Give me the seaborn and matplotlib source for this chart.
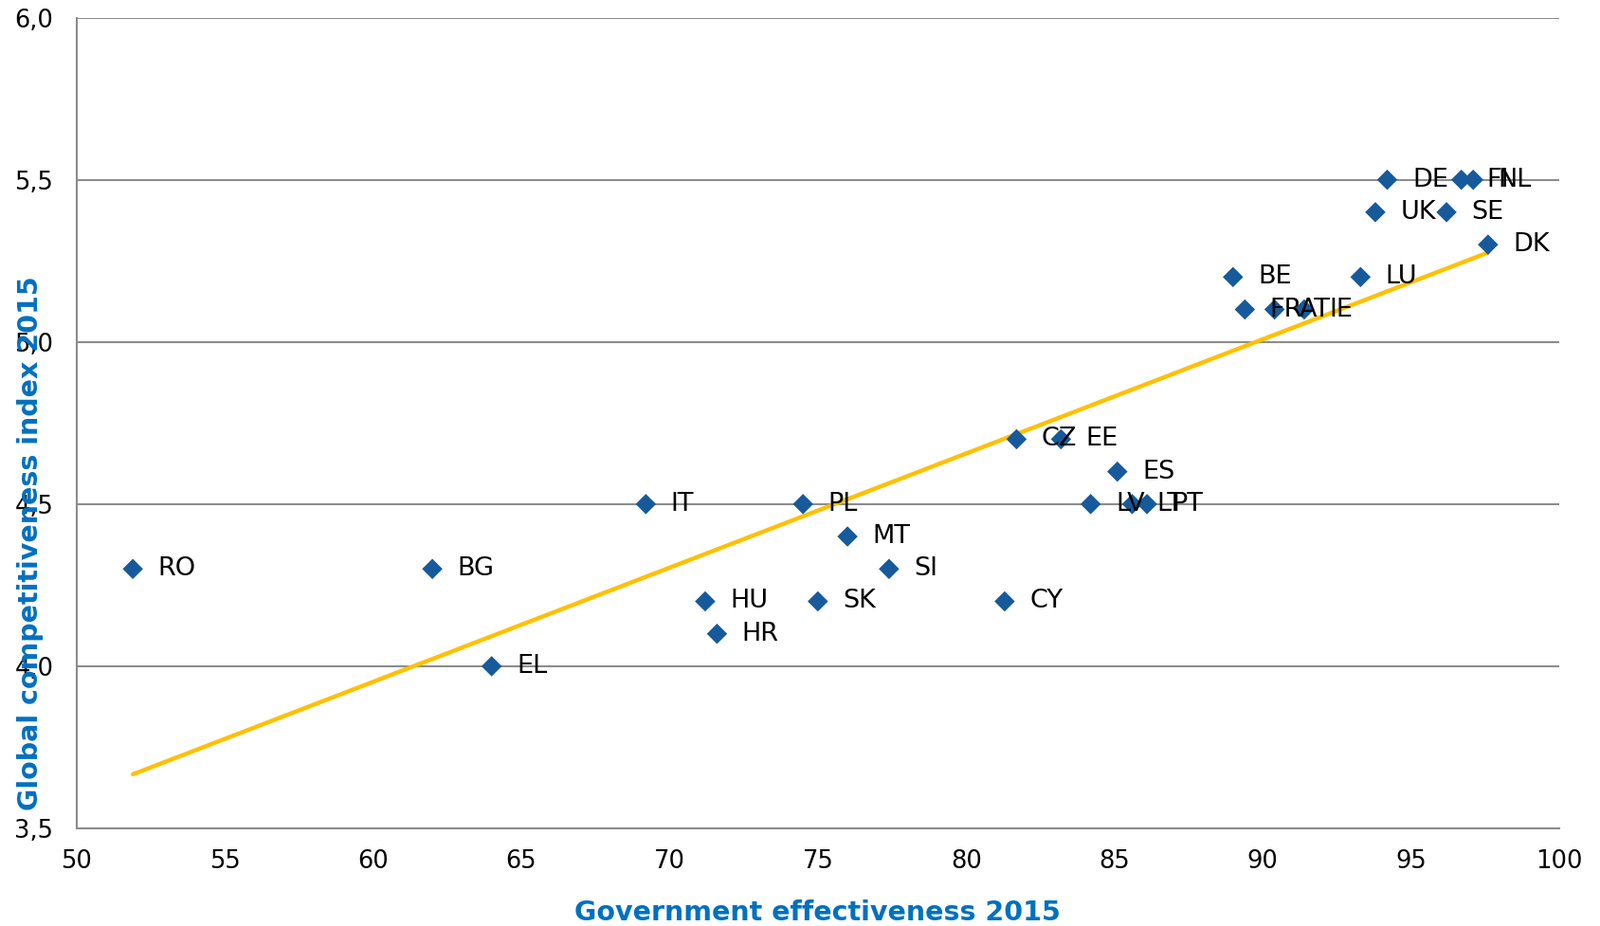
"""
Government effectiveness vs global competitiveness index, EU member states 2015
"""
import numpy as np
import pandas as pd
import matplotlib
matplotlib.use("Agg")
import matplotlib.pyplot as plt
import seaborn as sns
from matplotlib.ticker import FuncFormatter

sns.set_style("white")
plt.rcParams["font.family"] = ["DejaVu Sans"]

# -----------------------------------------------------------------
# Data
# -----------------------------------------------------------------
countries = ["RO", "BG", "EL", "IT", "HU", "HR", "PL", "SK", "MT", "SI",
             "CY", "CZ", "EE", "LV", "LT", "PT", "ES", "BE", "FR", "AT",
             "IE", "LU", "UK", "DE", "SE", "FI", "NL", "DK"]
gov_effect = [51.9, 62.0, 64.0, 69.2, 71.2, 71.6, 74.5, 75.0, 76.0, 77.4,
              81.3, 81.7, 83.2, 84.2, 85.6, 86.1, 85.1, 89.0, 89.4, 90.4,
              91.4, 93.3, 93.8, 94.2, 96.2, 96.7, 97.1, 97.6]
gci = [4.3, 4.3, 4.0, 4.5, 4.2, 4.1, 4.5, 4.2, 4.4, 4.3,
       4.2, 4.7, 4.7, 4.5, 4.5, 4.5, 4.6, 5.2, 5.1, 5.1,
       5.1, 5.2, 5.4, 5.5, 5.4, 5.5, 5.5, 5.3]

df = pd.DataFrame({"country": countries, "gov": gov_effect, "gci": gci})

MARKER = "#165A9C"
TREND = "#FFC000"
LABEL_BLUE = "#0070C0"
GRID = "#8C8C8C"

# -----------------------------------------------------------------
# Plot
# -----------------------------------------------------------------
fig = plt.figure(figsize=(16.88, 9.77), dpi=100)
ax = fig.add_axes([0.0478, 0.1054, 0.9267, 0.8756])

sns.regplot(data=df, x="gov", y="gci", scatter=False, ci=None, ax=ax,
            line_kws={"color": TREND, "linewidth": 3.2, "zorder": 2})
sns.scatterplot(data=df, x="gov", y="gci", marker="D", s=120, color=MARKER,
                edgecolor="none", ax=ax, zorder=3)

for _, row in df.iterrows():
    ax.annotate(row["country"], (row["gov"], row["gci"]), xytext=(19, 0),
                textcoords="offset points", va="center", ha="left",
                fontsize=19.5, color="black", zorder=4)

ax.set_xlim(50, 100)
ax.set_ylim(3.5, 6.0)
ax.set_xticks(np.arange(50, 101, 5))
ax.set_yticks(np.arange(3.5, 6.01, 0.5))
ax.yaxis.set_major_formatter(FuncFormatter(lambda v, p: f"{v:.1f}".replace(".", ",")))
ax.tick_params(axis="both", labelsize=18.5, colors="black", length=6.5, width=1.5,
               direction="out")
ax.tick_params(axis="x", color=GRID, pad=9)
ax.tick_params(axis="y", color=GRID, pad=11)
ax.grid(axis="y", color=GRID, linewidth=1.5)
ax.set_axisbelow(True)

for side in ["top", "right"]:
    ax.spines[side].set_visible(False)
for side in ["left", "bottom"]:
    ax.spines[side].set_color(GRID)
    ax.spines[side].set_linewidth(1.5)

ax.set_xlabel("Government effectiveness 2015", fontsize=20.5, fontweight="bold",
              color=LABEL_BLUE)
ax.set_ylabel("Global competitiveness index 2015", fontsize=20.5, fontweight="bold",
              color=LABEL_BLUE)
ax.xaxis.set_label_coords(0.5, -0.088)
# the original label sits low and runs over the tick labels
ax.yaxis.set_label_coords(-0.022, 0.352)

plt.savefig("out.png", dpi=100)
plt.close()
